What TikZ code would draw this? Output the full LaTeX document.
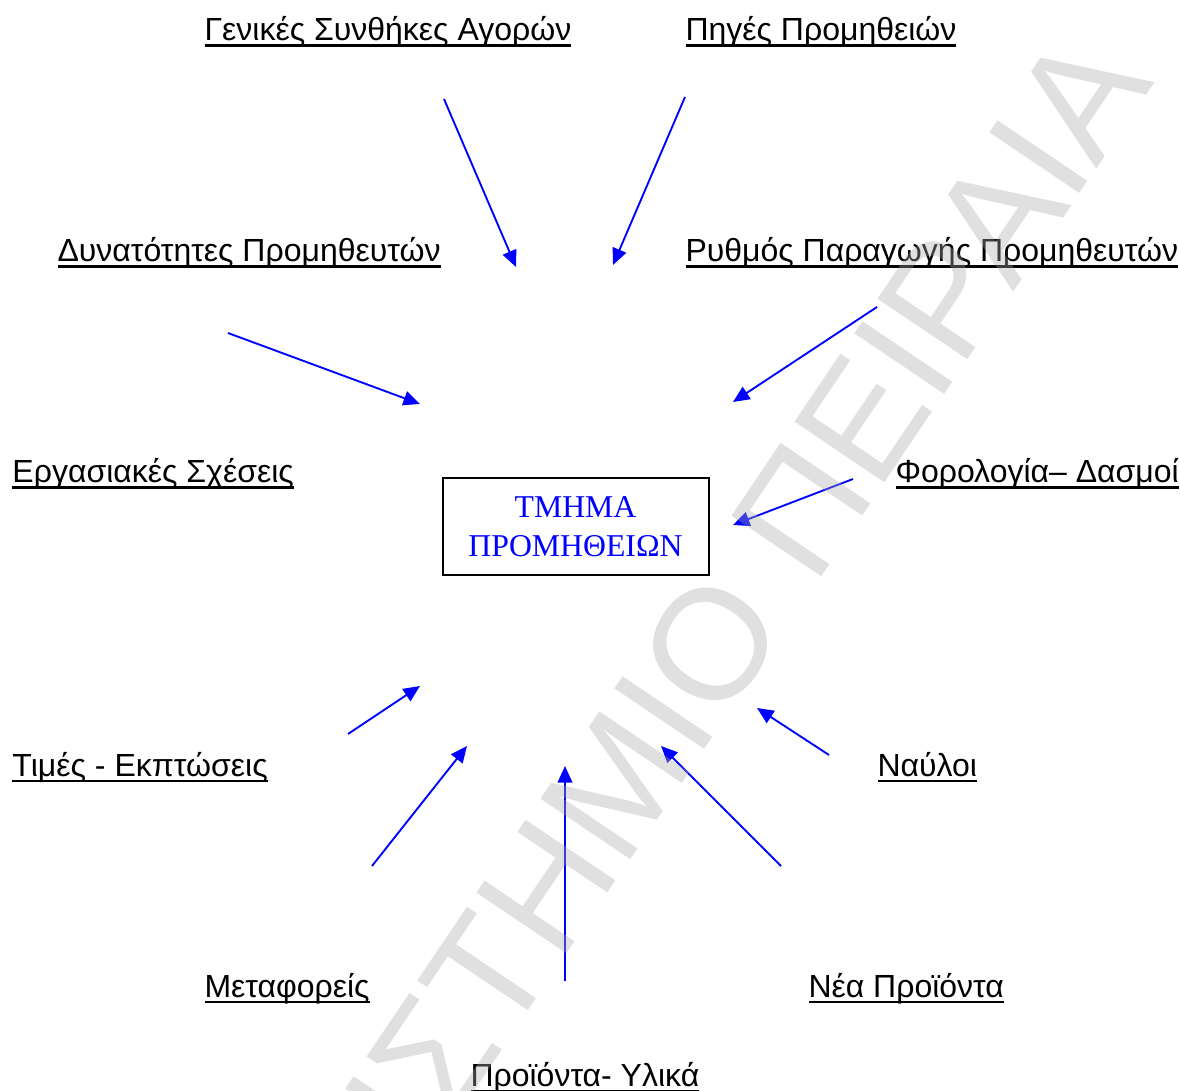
\documentclass[tikz,border=0pt]{standalone}
\usepackage{fontspec}
\setmainfont{Liberation Sans}
\newfontfamily\serifgr{Liberation Serif}
\usetikzlibrary{arrows.meta}
\definecolor{wmgray}{RGB}{168,168,168}
\newcommand\ulbl[1]{\setbox0=\hbox{#1}\rlap{\rule[-2.5pt]{\wd0}{1.1pt}}\box0}

\begin{document}
\begin{tikzpicture}[x=0.4pt,y=-0.4pt]
    \tikzstyle{lbl}=[anchor=base west,inner sep=0pt,font=\fontsize{12.8}{15}\selectfont]
    \tikzstyle{arr}=[draw=blue,line width=0.75pt,-{Triangle[length=6.6pt,width=5.8pt]}]
    \tikzstyle{dept}=[draw,line width=0.8pt,minimum width=106.4pt,minimum height=38.8pt,
        align=center,text=blue,inner sep=0pt,font=\serifgr\fontsize{12.7}{15.7}\selectfont]
    \tikzstyle{wmark}=[rotate=56,inner sep=0pt,text=wmgray,text opacity=0.36,
        font=\fontsize{63}{63}\selectfont]

    \useasboundingbox (0,0) rectangle (1180,1091);

    % The department in the middle
    \node[dept] (tmima) at (575.5,526.5) {ΤΜΗΜΑ\\ΠΡΟΜΗΘΕΙΩΝ};

    % Draw the factor labels
    \foreach \name/\x/\y/\txt in {gen/204/41/Γενικές Συνθήκες Αγορών,
                                  pig/685/41/Πηγές Προμηθειών,
                                  dyn/57/262/Δυνατότητες Προμηθευτών,
                                  ryth/685/262/Ρυθμός Παραγωγής Προμηθευτών,
                                  erg/12/483/Εργασιακές Σχέσεις,
                                  foro/895/483/Φορολογία– Δασμοί,
                                  tim/12/776/Τιμές - Εκπτώσεις,
                                  nav/877/776/Ναύλοι,
                                  met/204/997/Μεταφορείς,
                                  nea/808/997/Νέα Προϊόντα,
                                  pro/470/1086/Προϊόντα- Υλικά}
        \node[lbl] (\name) at (\x,\y) {\ulbl{\txt}};

    % Free arrows pointing in to the department
    \foreach \name/\xa/\ya/\xb/\yb in {gen/444/99/516/267, pig/685/97/613/265,
                                        dyn/228/333/420/404, ryth/877/307/733/402,
                                        foro/853/479/733/525, tim/348/734/420/686,
                                        met/372/866/467/746, pro/565/981/565/766,
                                        nea/781/866/661/746, nav/829/755/757/708}
    {
        \coordinate (\name-from) at (\xa,\ya);
        \coordinate (\name-to) at (\xb,\yb);
        \draw[arr] (\name-from) -- (\name-to);
    }

    % Watermark across the page
    \node[wmark] (wm) at (592,820) {ΠΑΝΕΠΙΣΤΗΜΙΟ ΠΕΙΡΑΙΑ};
\end{tikzpicture}
\end{document}
